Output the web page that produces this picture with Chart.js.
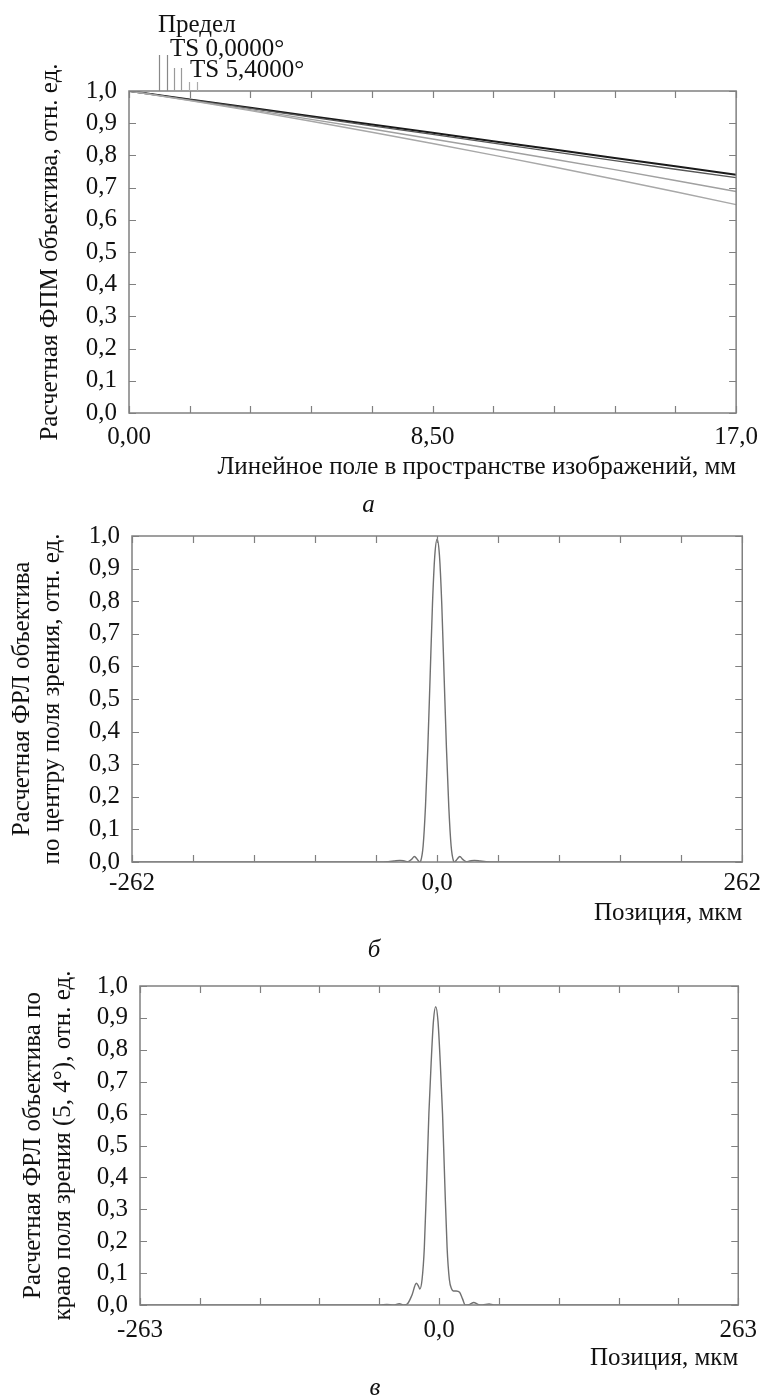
<!DOCTYPE html>
<html>
<head>
<meta charset="utf-8">
<script src="https://cdn.jsdelivr.net/npm/chart.js@4.4.1/dist/chart.umd.min.js"></script>
<style>
html, body { margin: 0; padding: 0; background: #fff; overflow: hidden; width: 767px; height: 1399px; }
canvas { position: absolute; left: 0; }
</style>
</head>
<body>
<canvas id="mtf"></canvas>
<canvas id="psfCenter"></canvas>
<canvas id="psfEdge"></canvas>
<script>
// а: ФПМ vs field
const fieldMm = [0, 1.7, 3.4, 5.1, 6.8, 8.5, 10.2, 11.9, 13.6, 15.3, 17.0]
const mtfLimit = [1.0, 0.974, 0.948, 0.922, 0.896, 0.870, 0.844, 0.818, 0.792, 0.766, 0.740]
const mtfTs0 = [1.0, 0.973, 0.946, 0.919, 0.892, 0.865, 0.838, 0.811, 0.784, 0.757, 0.731]
const mtfTs54T = [1.0, 0.971, 0.942, 0.912, 0.882, 0.851, 0.820, 0.788, 0.756, 0.722, 0.688]
const mtfTs54S = [1.0, 0.970, 0.939, 0.906, 0.872, 0.837, 0.801, 0.764, 0.726, 0.687, 0.647]
const mtfXLabels = ['0,00', '8,50', '17,0']
const mtfKeyNames = ['Предел', 'TS 0,0000°', 'TS 5,4000°']

// б: ФРЛ, centre of field
const posCenter = [-262, -50, -42, -37, -32, -28, -25, -22, -19.5, -17, -15, -14, -12, -10, -8, -6, -4, -2, 0,
    2, 4, 6, 8, 10, 12, 14, 15, 17, 19.5, 22, 25, 28, 32, 37, 42, 50, 262]
const psfCenter = [0, 0, 0.001, 0.003, 0.005, 0.003, 0.001, 0.008, 0.017, 0.008, 0, 0.004, 0.05, 0.17, 0.35, 0.57, 0.79, 0.94, 0.99,
    0.94, 0.79, 0.57, 0.35, 0.17, 0.05, 0.004, 0, 0.008, 0.017, 0.008, 0.001, 0.003, 0.005, 0.003, 0.001, 0, 0]
const centerXLabels = ['-262', '0,0', '262']

// в: ФРЛ, edge of field (5,4°)
const posEdge = [-263, -60, -52, -46, -40, -35, -31, -28, -24, -20, -18, -17, -15, -13, -11, -9, -7, -5, -3,
    -1, 1, 3, 5, 7, 9, 11, 12.5, 15, 18, 20.5, 23, 27, 30.5, 34, 38, 44, 48, 263]
const psfEdge = [0, 0, 0, 0.002, 0, 0.004, 0, 0.003, 0.03, 0.068, 0.058, 0.05, 0.08, 0.18, 0.38, 0.6, 0.76, 0.89, 0.935,
    0.89, 0.76, 0.6, 0.38, 0.18, 0.08, 0.05, 0.044, 0.044, 0.04, 0.02, 0, 0.002, 0.008, 0.002, 0, 0.003, 0, 0]
const edgeXLabels = ['-263', '0,0', '263']

const serif = '"Liberation Serif", "Times New Roman", serif'
const W = 767

function points(xs, ys) {
    return xs.map((x, i) => ({x: x, y: ys[i]}))
}

// box around the plot + inward ticks on all four sides
const frame = {
    id: 'frame',
    afterDatasetsDraw(chart) {
        const {ctx, chartArea: a, scales: {x, y}} = chart
        ctx.save()
        ctx.strokeStyle = '#808080'
        ctx.lineWidth = 1.5
        ctx.strokeRect(a.left, a.top, a.right - a.left, a.bottom - a.top)
        ctx.lineWidth = 1.2
        ctx.beginPath()
        x.ticks.forEach((t) => {
            const px = Math.round(x.getPixelForValue(t.value)) + 0.5
            ctx.moveTo(px, a.bottom); ctx.lineTo(px, a.bottom - 7)
            ctx.moveTo(px, a.top); ctx.lineTo(px, a.top + 7)
        })
        y.ticks.forEach((t) => {
            const py = Math.round(y.getPixelForValue(t.value)) + 0.5
            ctx.moveTo(a.left, py); ctx.lineTo(a.left + 7, py)
            ctx.moveTo(a.right, py); ctx.lineTo(a.right - 7, py)
        })
        ctx.stroke()
        ctx.restore()
    }
}

// zemax style key above the first plot
const mtfKey = {
    id: 'mtfKey',
    afterDraw(chart) {
        const {ctx, chartArea: a} = chart
        ctx.save()
        ctx.font = '25px ' + serif
        ctx.fillStyle = '#111'
        ctx.textBaseline = 'middle'
        const textPos = [[158, 25], [170, 49], [190, 70]]
        mtfKeyNames.forEach((s, i) => ctx.fillText(s, textPos[i][0], textPos[i][1]))
        const stubs = [[159, 55, '#888'], [167, 55, '#888'], [174, 68, '#999'], [181, 68, '#999'], [189, 82, '#aaa'], [197, 82, '#aaa']]
        ctx.lineWidth = 1.2
        stubs.forEach((s) => {
            ctx.strokeStyle = s[2]
            ctx.beginPath()
            ctx.moveTo(s[0] + 0.5, s[1]); ctx.lineTo(s[0] + 0.5, a.top)
            ctx.stroke()
        })
        ctx.restore()
    }
}

function makeChart(id, box, datasets, xLabels, yTitle, xTitle, caption, extra) {
    const el = document.getElementById(id)
    el.width = W
    el.height = box.height
    el.style.top = box.top + 'px'
    const xStep = (box.xMax - box.xMin) / 10
    const xAxisH = box.height - 30 - (box.plotBottom - box.top)

    return new Chart(el, {
        type: 'line',
        data: {datasets: datasets},
        options: {
            responsive: false,
            animation: false,
            devicePixelRatio: 1,
            layout: {padding: {top: box.plotTop - box.top, right: W - box.plotRight, left: 0, bottom: 0}},
            elements: {point: {radius: 0}},
            plugins: {
                legend: {display: false},
                tooltip: {enabled: false},
                title: {
                    display: true,
                    position: 'bottom',
                    text: caption,
                    color: '#111',
                    padding: 0,
                    font: {family: serif, size: 25, style: 'italic', weight: 'normal', lineHeight: 1.2},
                },
            },
            scales: {
                x: {
                    type: 'linear',
                    min: box.xMin,
                    max: box.xMax,
                    grid: {display: false, drawTicks: false},
                    border: {display: false},
                    afterFit: (s) => { s.height = xAxisH },
                    ticks: {
                        stepSize: xStep,
                        autoSkip: false,
                        maxRotation: 0,
                        padding: box.xTickPad,
                        color: '#111',
                        font: {family: serif, size: 25, lineHeight: 1.2},
                        callback: (v, i) => (i === 0 ? xLabels[0] : i === 5 ? xLabels[1] : i === 10 ? xLabels[2] : ''),
                    },
                    title: {
                        display: true,
                        text: xTitle,
                        align: 'end',
                        color: '#111',
                        padding: {top: 0, bottom: box.xTitlePad},
                        font: {family: serif, size: 25, lineHeight: 1.2},
                    },
                },
                y: {
                    min: 0,
                    max: 1,
                    grid: {display: false, drawTicks: false},
                    border: {display: false},
                    afterFit: (s) => { s.width = box.plotLeft },
                    ticks: {
                        stepSize: 0.1,
                        autoSkip: false,
                        padding: 12,
                        color: '#111',
                        font: {family: serif, size: 25, lineHeight: 1.2},
                        callback: (v) => v.toFixed(1).replace('.', ','),
                    },
                    title: {
                        display: true,
                        text: yTitle,
                        color: '#111',
                        padding: {top: box.yTitlePad, bottom: 0},
                        font: {family: serif, size: 25, lineHeight: 1.2},
                    },
                },
            },
        },
        plugins: [frame].concat(extra || []),
    })
}

makeChart('mtf',
    {top: 0, height: 520, plotTop: 91, plotBottom: 413, plotLeft: 129, plotRight: 737,
     xMin: 0, xMax: 17, xTickPad: 9, xTitlePad: 8, yTitlePad: 35},
    [
        {data: points(fieldMm, mtfTs54S), borderColor: '#a8a8a8', borderWidth: 1.4},
        {data: points(fieldMm, mtfTs54T), borderColor: '#a0a0a0', borderWidth: 1.4},
        {data: points(fieldMm, mtfTs0), borderColor: '#555', borderWidth: 1.3},
        {data: points(fieldMm, mtfLimit), borderColor: '#1a1a1a', borderWidth: 2},
    ],
    mtfXLabels,
    'Расчетная ФПМ объектива, отн. ед.',
    'Линейное поле в пространстве изображений, мм',
    'а',
    [mtfKey])

makeChart('psfCenter',
    {top: 496, height: 469, plotTop: 536, plotBottom: 862, plotLeft: 132, plotRight: 748,
     xMin: -262, xMax: 262, xTickPad: 6, xTitlePad: 7, yTitlePad: 7},
    [{data: points(posCenter, psfCenter), borderColor: '#707070', borderWidth: 1.4, cubicInterpolationMode: 'monotone'}],
    centerXLabels,
    ['Расчетная ФРЛ объектива', 'по центру поля зрения, отн. ед.'],
    'Позиция, мкм',
    'б')

makeChart('psfEdge',
    {top: 946, height: 457, plotTop: 986, plotBottom: 1305, plotLeft: 140, plotRight: 750,
     xMin: -263, xMax: 263, xTickPad: 10, xTitlePad: 0, yTitlePad: 18},
    [{data: points(posEdge, psfEdge), borderColor: '#707070', borderWidth: 1.4, cubicInterpolationMode: 'monotone'}],
    edgeXLabels,
    ['Расчетная ФРЛ объектива по', 'краю поля зрения (5, 4°), отн. ед.'],
    'Позиция, мкм',
    'в')
</script>
</body>
</html>
